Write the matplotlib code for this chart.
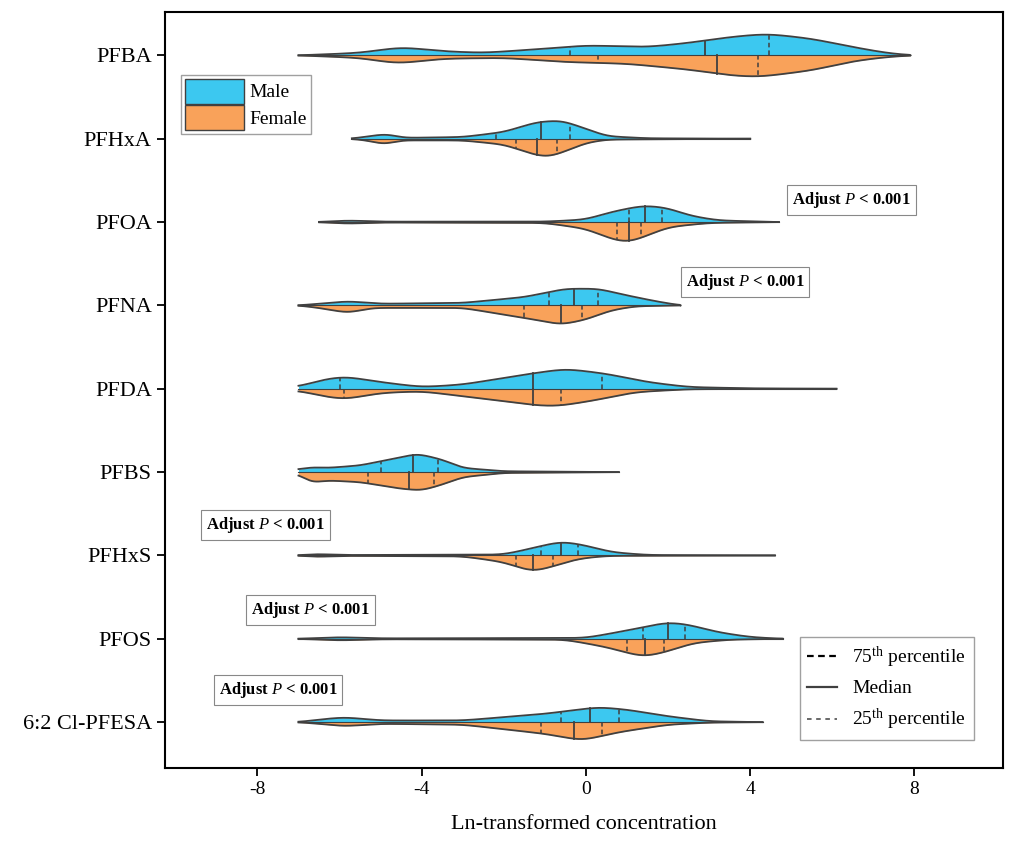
import numpy as np
import matplotlib.pyplot as plt
from matplotlib.lines import Line2D
from matplotlib.patches import Patch

plt.rcParams['font.family'] = ['Liberation Serif', 'DejaVu Serif']
plt.rcParams['mathtext.fontset'] = 'custom'
plt.rcParams['mathtext.rm'] = 'Liberation Serif'
plt.rcParams['mathtext.it'] = 'Liberation Serif:italic'
plt.rcParams['mathtext.bf'] = 'Liberation Serif:bold'
plt.rcParams['axes.unicode_minus'] = False

compounds = ['PFBA', 'PFHxA', 'PFOA', 'PFNA', 'PFDA', 'PFBS', 'PFHxS', 'PFOS', '6:2 Cl-PFESA']

# density outlines: (x, half-height) pairs
male_shape = [
    [(-7, 0), (-5.5, .03), (-4.5, .1), (-3.5, .05), (-2.5, .03), (-1, .08), (0, .12), (1.5, .1), (2.5, .15), (3.5, .22), (4.4, .26), (5.5, .2), (6.5, .1), (7.3, .03), (7.9, 0)],
    [(-5.7, 0), (-5, .05), (-4.8, .06), (-4.5, .01), (-3, .02), (-2, .08), (-1.2, .2), (-0.6, .22), (0, .12), (0.5, .03), (1.5, .005), (4, 0)],
    [(-6.5, 0), (-5.8, .02), (-5, .005), (-1, .005), (0, .03), (0.6, .12), (1.4, .2), (2, .17), (2.5, .08), (3.2, .02), (4.7, 0)],
    [(-7, 0), (-6.5, .02), (-5.8, .05), (-5, .02), (-3, .03), (-1.5, .1), (-0.5, .2), (0.3, .2), (1, .12), (1.7, .05), (2.3, 0)],
    [(-7, .02), (-6.5, .1), (-5.9, .15), (-5, .08), (-4, .02), (-3, .05), (-1.5, .17), (-0.5, .24), (0.5, .18), (1.5, .08), (2.5, .02), (4, .005), (6.1, 0)],
    [(-7, .03), (-6.7, .06), (-6.3, .05), (-5.5, .08), (-4.8, .15), (-4.1, .22), (-3.5, .15), (-3, .05), (-2, .01), (0.8, 0)],
    [(-7, 0), (-6.6, .02), (-6, .005), (-2, .01), (-1.2, .1), (-0.6, .17), (0, .12), (0.6, .04), (1.5, .005), (4.6, 0)],
    [(-7, 0), (-6, .02), (-5, .005), (0, .01), (1, .1), (2, .2), (2.5, .17), (3.2, .08), (4, .02), (4.8, 0)],
    [(-7, 0), (-6.5, .03), (-5.9, .06), (-5, .02), (-3, .02), (-1, .1), (0.3, .18), (1, .15), (2, .07), (3, .01), (4.3, 0)],
]
female_shape = [
    [(-7, 0), (-5.5, .03), (-4.6, .1), (-3.5, .04), (-2, .03), (-0.5, .08), (1, .1), (2.5, .17), (3.5, .24), (4.2, .26), (5.5, .18), (6.5, .07), (7.3, .02), (7.9, 0)],
    [(-5.7, 0), (-5.2, .03), (-4.9, .08), (-4.6, .02), (-3, .02), (-2, .07), (-1.2, .2), (-0.9, .22), (-0.5, .15), (0, .05), (0.5, .01), (4, 0)],
    [(-6.5, 0), (-5.8, .02), (-5, .005), (-1, .01), (0, .08), (0.6, .2), (1.0, .25), (1.4, .18), (2, .06), (3, .01), (4.7, 0)],
    [(-7, 0), (-6.5, .03), (-5.8, .09), (-5.2, .03), (-3, .03), (-1.5, .15), (-0.6, .23), (0, .17), (0.6, .06), (1.2, .01), (2.3, 0)],
    [(-7, .02), (-6.5, .08), (-5.9, .13), (-5, .05), (-4, .03), (-2.5, .12), (-1.2, .2), (-0.7, .21), (0.2, .14), (1.2, .04), (2.5, .005), (6.1, 0)],
    [(-7, .02), (-6.7, .13), (-6.3, .1), (-5.5, .12), (-4.5, .2), (-4.0, .22), (-3.5, .15), (-3, .06), (-2, .01), (0.8, 0)],
    [(-7, 0), (-6.6, .02), (-6, .005), (-3, .01), (-2, .08), (-1.3, .2), (-0.8, .13), (-0.2, .04), (0.5, .005), (4.6, 0)],
    [(-7, 0), (-6, .02), (-5, .005), (-0.5, .01), (0.5, .1), (1.4, .22), (2, .15), (2.6, .05), (3.5, .01), (4.8, 0)],
    [(-7, 0), (-6.5, .02), (-5.9, .05), (-5, .02), (-3, .03), (-1, .14), (-0.1, .22), (0.8, .12), (2, .03), (3, .005), (4.3, 0)],
]
# (q25, median, q75)
male_q = [(-0.4, 2.9, 4.45), (-2.2, -1.1, -0.4), (1.05, 1.45, 1.85), (-0.9, -0.3, 0.3), (-6.0, -1.3, 0.4),
          (-5.0, -4.2, -3.6), (-1.1, -0.6, -0.2), (1.4, 2.0, 2.4), (-0.6, 0.1, 0.8)]
female_q = [(0.3, 3.2, 4.2), (-1.7, -1.2, -0.7), (0.75, 1.05, 1.35), (-1.5, -0.6, -0.1), (-5.9, -1.3, -0.6),
            (-5.3, -4.3, -3.7), (-1.7, -1.3, -0.8), (1.0, 1.45, 1.9), (-1.1, -0.3, 0.4)]

notes = [(6.47, 1.74), (3.87, 2.72), (-7.8, 5.64), (-6.7, 6.65), (-7.5, 7.61)]

male_color = '#3cc8f0'
female_color = '#f9a25a'
edge = '#404040'


def smooth_outline(shape):
    xs = np.array([p[0] for p in shape])
    hs = np.array([p[1] for p in shape])
    fx = np.linspace(xs[0], xs[-1], 600)
    fh = np.interp(fx, xs, hs)
    k = np.exp(-0.5 * (np.arange(-30, 31) / 12.0) ** 2)
    k /= k.sum()
    pad = np.concatenate([np.full(30, fh[0]), fh, np.full(30, fh[-1])])
    fh = np.convolve(pad, k, mode='valid')
    fh[-1] = hs[-1]
    return fx, fh


fig = plt.figure(figsize=(10.16, 8.6), dpi=100)
ax = fig.add_axes([0.1624, 0.107, 0.8246, 0.879])

for i in range(len(compounds)):
    for shape, q, sign, col in [(male_shape[i], male_q[i], -1, male_color),
                                (female_shape[i], female_q[i], 1, female_color)]:
        fx, fh = smooth_outline(shape)
        ax.fill_between(fx, i, i + sign * fh, color=col, lw=0)
        ax.plot(fx, i + sign * fh, color=edge, lw=1.3)
        for k, v in enumerate(q):
            h = np.interp(v, fx, fh)
            ax.plot([v, v], [i, i + sign * h], color=edge, lw=1.3 if k == 1 else 1.1,
                    ls='-' if k == 1 else (0, (3, 2)))
    ax.plot([min(male_shape[i][0][0], female_shape[i][0][0]), male_shape[i][-1][0]], [i, i], color=edge, lw=0.8)

for x, y in notes:
    ax.text(x, y, 'Adjust $\\mathbf{\\mathit{P}}$ < 0.001', ha='center', va='center', fontsize=12, fontweight='bold',
            bbox=dict(boxstyle='square,pad=0.3', fc='white', ec='#888888', lw=0.8))

ax.set_xlim(-10.25, 10.15)
ax.set_ylim(8.55, -0.52)
ax.set_xticks([-8, -4, 0, 4, 8])
ax.set_yticks(range(len(compounds)))
ax.set_yticklabels(compounds)
ax.tick_params(axis='x', labelsize=14, width=1.3, length=6)
ax.tick_params(axis='y', labelsize=16, width=1.3, length=6)
for s in ax.spines.values():
    s.set_linewidth(1.5)
ax.set_xlabel('Ln-transformed concentration', fontsize=16, labelpad=12)

leg1 = ax.legend(handles=[Patch(fc=male_color, ec=edge, label='Male'), Patch(fc=female_color, ec=edge, label='Female')],
                 loc='upper left', bbox_to_anchor=(0.008, 0.93), fontsize=14, fancybox=False, edgecolor='#888888',
                 handlelength=3, handleheight=1.6, borderpad=0.2, labelspacing=0.1, handletextpad=0.3)
ax.add_artist(leg1)
ax.legend(handles=[Line2D([], [], color='k', ls=(0, (3, 2)), lw=1.6, label='75$^{\\rm th}$ percentile'),
                   Line2D([], [], color=edge, lw=1.6, label='Median'),
                   Line2D([], [], color=edge, ls=(0, (3, 3)), lw=1.1, label='25$^{\\rm th}$ percentile')],
          loc='lower right', bbox_to_anchor=(0.977, 0.024), fontsize=14, fancybox=False, edgecolor='#888888',
          handlelength=1.5, labelspacing=0.5)

fig.savefig('out.png')
